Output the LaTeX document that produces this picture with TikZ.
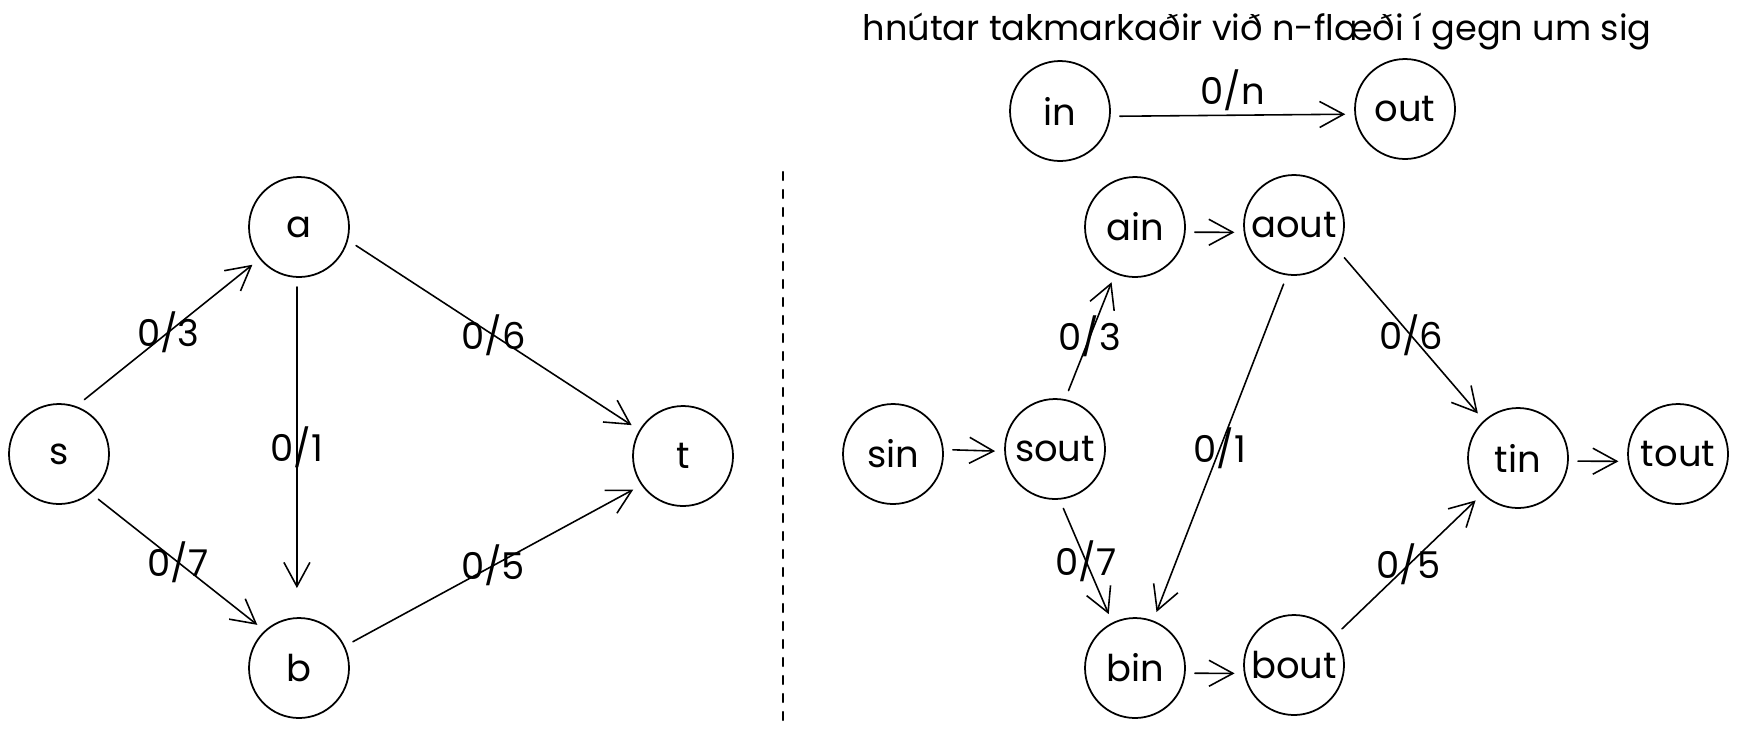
\documentclass[tikz,border=0pt]{standalone}
\usepackage{fontspec}
\setmainfont{Poppins}
\usetikzlibrary{arrows.meta}
\begin{document}
\begin{tikzpicture}[x=0.1mm,y=-0.1mm,>={Straight Barb[length=2.4mm,width=2.6mm]},
    line join=round, line cap=round,
    vertex/.style={draw,circle,minimum size=10mm,inner sep=0pt,outer sep=1mm,line width=0.5pt,font=\fontsize{10.5}{12}\selectfont},
    flow/.style={->,line width=0.45pt},
    flowlbl/.style={font=\fontsize{10.5}{12}\selectfont}]
        \useasboundingbox (0,0) rectangle (1737,729);
        % upprunalega netid
        \node[vertex] (s) at (59,454) {s};
        \node[vertex] (a) at (299,227) {a};
        \node[vertex] (b) at (299,668) {b};
        \node[vertex] (t) at (683,456) {t};
        \draw[flow] (s.65) -- (a.219) node[flowlbl,midway] {0/3};
        \draw[flow] (s.311) -- (b.134) node[flowlbl,midway] {0/7};
        \draw[flow,shorten >=2mm] (a.268) -- (b.92) node[flowlbl,midway] {0/1};
        \draw[flow] (a.342) -- (t.149) node[flowlbl,midway] {0/6};
        \draw[flow] (b.26) -- (t.214) node[flowlbl,midway] {0/5};
        \draw[dashed,line width=0.7pt,dash pattern=on 0.8mm off 1mm] (783,172) -- (783,720);
        % hnutar klofnir
        \node[anchor=base,font=\fontsize{10}{12}\selectfont] (title) at (1257,40) {hnútar takmarkaðir við n-flæði í gegn um sig};
        \node[vertex] (in) at (1060,111) {in};
        \node[vertex] (out) at (1405,109) {out};
        \draw[flow] (in.-5) -- (out.185) node[flowlbl,midway,above=-0.8mm] {0/n};
        \node[vertex] (sin) at (893,454) {sin};
        \node[vertex] (sout) at (1055,449) {sout};
        \node[vertex] (ain) at (1135,227) {ain};
        \node[vertex] (aout) at (1294,225) {aout};
        \node[vertex] (bin) at (1135,668) {bin};
        \node[vertex] (bout) at (1294,665) {bout};
        \node[vertex] (tin) at (1518,458) {tin};
        \node[vertex] (tout) at (1678,454) {tout};
        \draw[flow] (sin.4) -- (sout.182);
        \draw[flow] (ain.-5) -- (aout.187);
        \draw[flow] (bin.-5) -- (bout.188);
        \draw[flow] (tin.-3) -- (tout.187);
        \draw[flow] (sout.77) -- (ain.247) node[flowlbl,midway] {0/3};
        \draw[flow] (sout.278) -- (bin.116) node[flowlbl,midway] {0/7};
        \draw[flow] (aout.260) -- (bin.69) node[flowlbl,midway] {0/1};
        \draw[flow] (aout.327) -- (tin.132) node[flowlbl,midway] {0/6};
        \draw[flow] (bout.37) -- (tin.225) node[flowlbl,midway] {0/5};
    \end{tikzpicture}
\end{document}
